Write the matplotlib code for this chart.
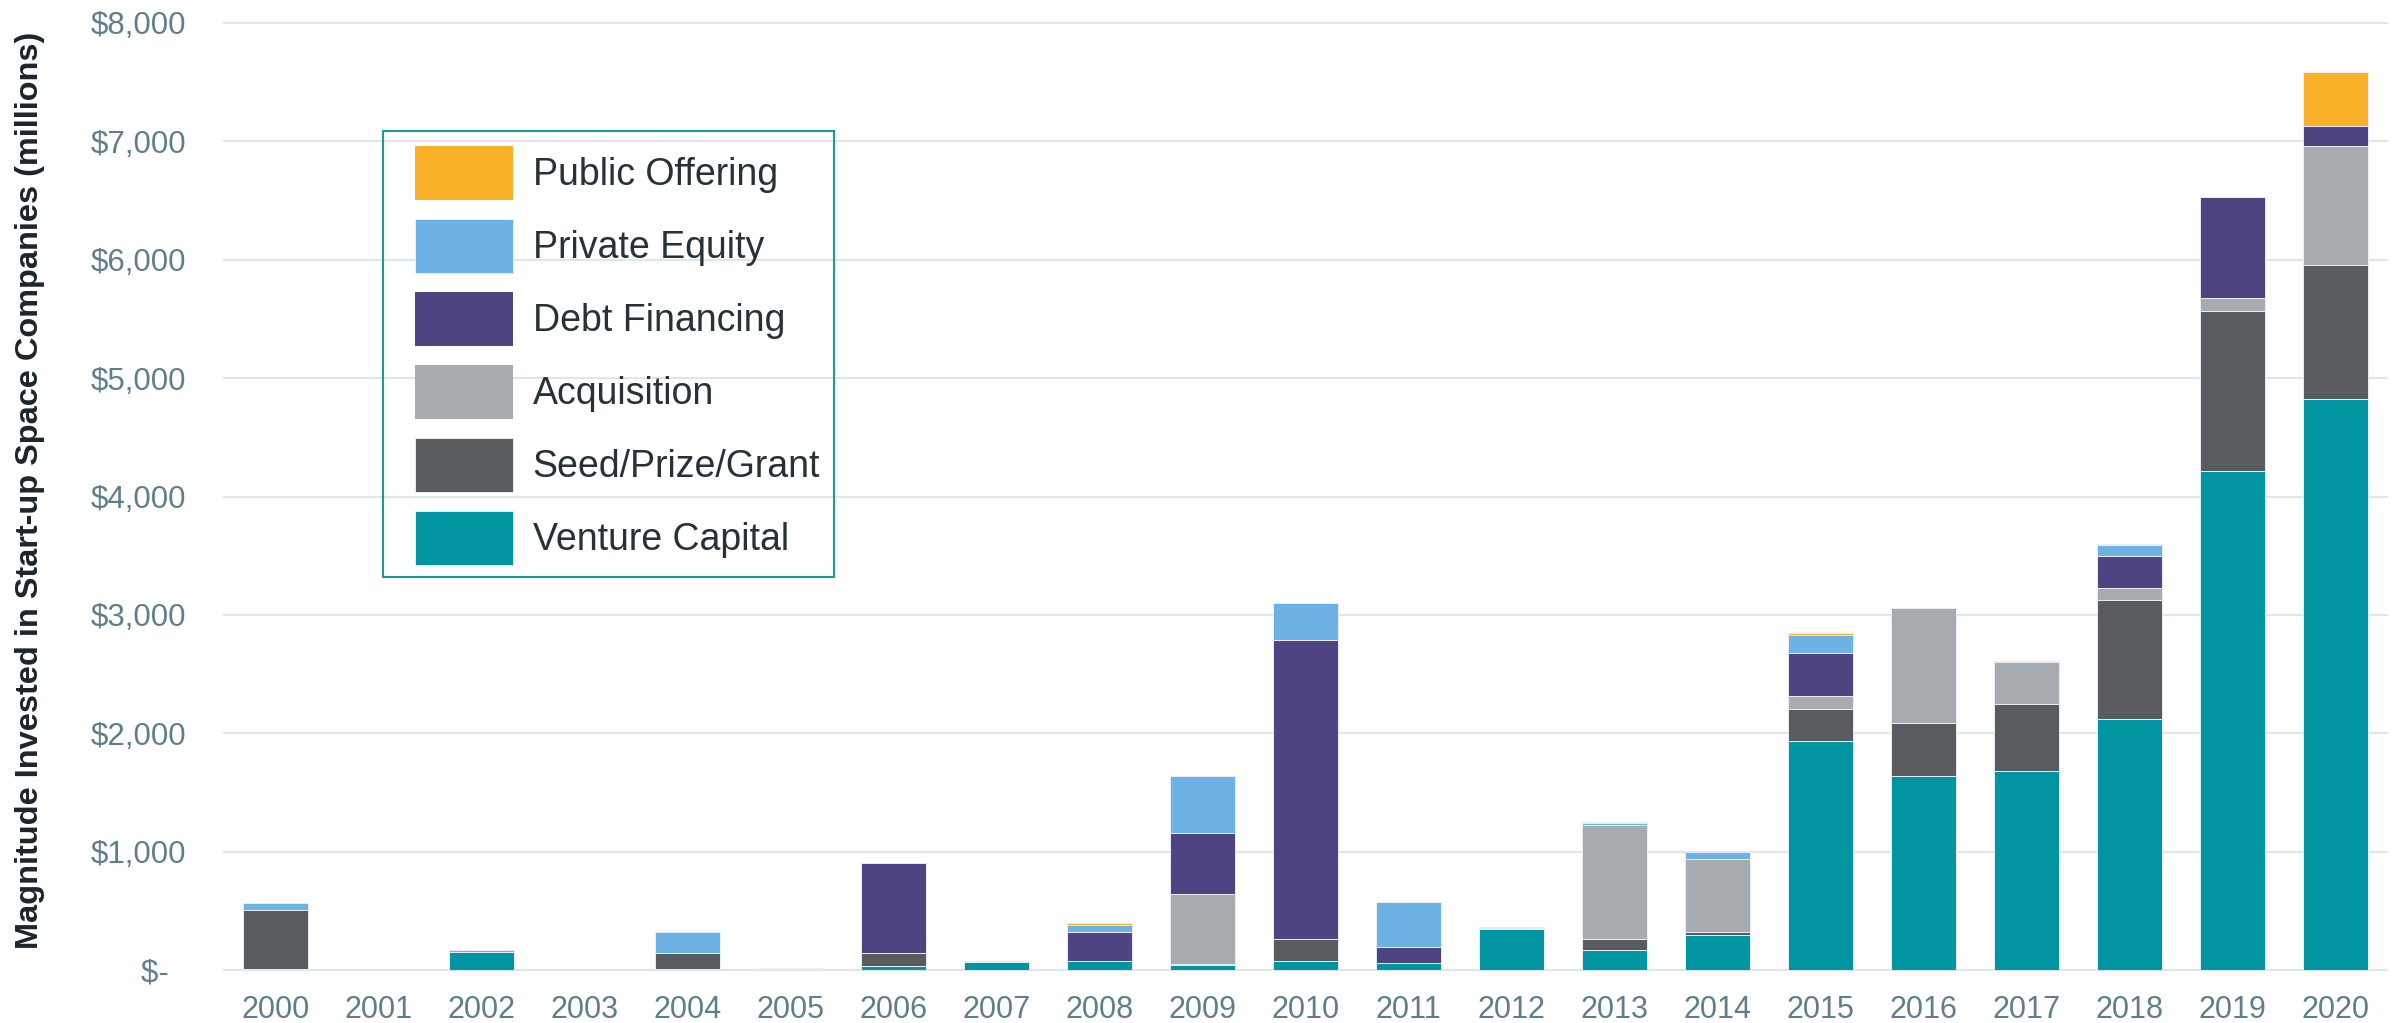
import matplotlib
matplotlib.use("Agg")
import matplotlib.pyplot as plt
import numpy as np
from matplotlib.patches import Rectangle

years = [str(y) for y in range(2000, 2021)]
venture_capital = [5, 0, 155, 0, 5, 10, 37, 65, 76, 45, 76, 56, 344, 169, 296, 1935, 1637, 1682, 2118, 4213, 4824]
seed_prize_grant = [505, 0, 0, 0, 142, 0, 105, 8, 0, 6, 183, 0, 8, 90, 28, 271, 450, 566, 1009, 1357, 1131]
acquisition = [0, 0, 0, 0, 0, 0, 0, 0, 0, 588, 0, 0, 0, 966, 611, 110, 967, 358, 104, 110, 1005]
debt_financing = [0, 0, 0, 0, 0, 0, 762, 0, 248, 522, 2530, 141, 0, 0, 6, 366, 5, 8, 265, 850, 168]
private_equity = [57, 0, 12, 0, 173, 4, 0, 0, 56, 478, 315, 378, 11, 14, 53, 146, 0, 0, 91, 0, 0]
public_offering = [0, 0, 0, 0, 0, 0, 0, 0, 14, 0, 0, 0, 0, 12, 0, 17, 0, 0, 9, 0, 462]

series_names = ["Venture Capital", "Seed/Prize/Grant", "Acquisition",
                "Debt Financing", "Private Equity", "Public Offering"]
series_values = [venture_capital, seed_prize_grant, acquisition,
                 debt_financing, private_equity, public_offering]
colors = ["#0095A0", "#585C5F", "#A5ABAE", "#4D4481", "#6CB2E4", "#FBB12A"]

ytick_values = [0, 1000, 2000, 3000, 4000, 5000, 6000, 7000, 8000]
ytick_labels = ["$-  ", "$1,000", "$2,000", "$3,000", "$4,000",
                "$5,000", "$6,000", "$7,000", "$8,000"]

W, H = 2399, 1023
fig = plt.figure(figsize=(W / 100, H / 100), dpi=100)
ax = fig.add_axes([224 / W, 1 - 970 / H, (2387 - 224) / W, (970 - 23) / H])

x = np.arange(len(years))
bottom = np.zeros(len(years))
handles = []
for name, vals, col in zip(series_names, series_values, colors):
    vals = np.array(vals, dtype=float)
    lw = [0.7 if v > 0 else 0 for v in vals]
    b = ax.bar(x, vals, width=0.626, bottom=bottom, color=col,
               edgecolor="#ececf4", linewidth=lw, label=name, zorder=3)
    handles.append(b)
    bottom += vals

ax.set_xlim(-0.5, 20.5)
ax.set_ylim(0, 8000)
ax.set_xticks(x)
ax.set_xticklabels(years)
ax.set_yticks(ytick_values)
ax.set_yticklabels(ytick_labels)

for s in ax.spines.values():
    s.set_visible(False)
ax.yaxis.grid(True, color="#dde6e9", linewidth=1.5, zorder=0)
for gl in ax.yaxis.get_gridlines():
    gl.set_clip_on(False)
ax.set_axisbelow(True)
ax.tick_params(axis="both", length=0)
ax.tick_params(axis="x", pad=18, labelsize=22, labelcolor="#5f7e8b")
ax.tick_params(axis="y", pad=27, labelsize=22.5, labelcolor="#5f7e8b")
for lab in ax.get_xticklabels() + ax.get_yticklabels():
    lab.set_fontfamily(["Liberation Sans", "DejaVu Sans"])

fig.text(30 / W, 1 - 490 / H,
         "Magnitude Invested in Start-up Space Companies (millions)",
         rotation=90, ha="center", va="center", fontsize=23.4,
         fontweight="bold", color="#1c252b",
         family=["Liberation Sans Narrow", "Liberation Sans", "DejaVu Sans"])

leg = ax.legend(handles[::-1], series_names[::-1], loc="upper left",
                bbox_to_anchor=(415 / W, 1 - 146 / H),
                bbox_transform=fig.transFigure, frameon=False,
                borderpad=0, borderaxespad=0,
                handlelength=2.6, handleheight=1.82,
                labelspacing=0.52, handletextpad=0.54,
                prop={"family": ["Liberation Sans", "DejaVu Sans"], "size": 27})
for t in leg.get_texts():
    t.set_color("#263238")

fig.patches.append(Rectangle((383 / W, 1 - 577 / H), (834 - 383) / W, (577 - 131) / H,
                             transform=fig.transFigure, fill=False,
                             edgecolor="#1a9aa0", linewidth=1.5, zorder=5))

fig.savefig("out.png", dpi=100, facecolor="white")
